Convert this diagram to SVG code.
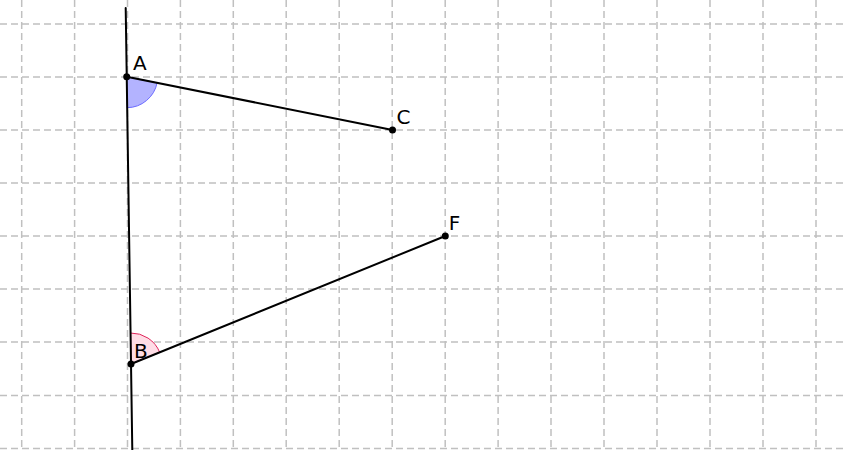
<svg xmlns="http://www.w3.org/2000/svg" width="846" height="450" viewBox="0 0 846 450">
<style>
.grid line{stroke:#c0c0c0;stroke-width:1.5;stroke-dasharray:7,4}
.seg{stroke:#000;stroke-width:2;fill:none;stroke-linecap:round}
.pt{fill:#000}
.lbl{font-family:"DejaVu Sans",sans-serif;font-size:20px;fill:#000}
</style>
<rect width="846" height="450" fill="#fff"/>
<g class="grid">
<line x1="21.7" y1="0" x2="21.7" y2="450"/>
<line x1="74.6" y1="0" x2="74.6" y2="450"/>
<line x1="127.5" y1="0" x2="127.5" y2="450"/>
<line x1="180.4" y1="0" x2="180.4" y2="450"/>
<line x1="233.3" y1="0" x2="233.3" y2="450"/>
<line x1="286.2" y1="0" x2="286.2" y2="450"/>
<line x1="339.2" y1="0" x2="339.2" y2="450"/>
<line x1="392.2" y1="0" x2="392.2" y2="450"/>
<line x1="445.2" y1="0" x2="445.2" y2="450"/>
<line x1="498.1" y1="0" x2="498.1" y2="450"/>
<line x1="551" y1="0" x2="551" y2="450"/>
<line x1="604" y1="0" x2="604" y2="450"/>
<line x1="657" y1="0" x2="657" y2="450"/>
<line x1="710" y1="0" x2="710" y2="450"/>
<line x1="763" y1="0" x2="763" y2="450"/>
<line x1="816" y1="0" x2="816" y2="450"/>
<line x1="0" y1="24" x2="846" y2="24"/>
<line x1="0" y1="77" x2="846" y2="77"/>
<line x1="0" y1="130" x2="846" y2="130"/>
<line x1="0" y1="183" x2="846" y2="183"/>
<line x1="0" y1="236" x2="846" y2="236"/>
<line x1="0" y1="289" x2="846" y2="289"/>
<line x1="0" y1="342" x2="846" y2="342"/>
<line x1="0" y1="395.5" x2="846" y2="395.5"/>
<line x1="0" y1="448.5" x2="846" y2="448.5"/>
</g>
<g id="angles">
<path d="M126.7,76.7 L157.1,82.8 A31,31 0 0 1 127.2,107.7 Z" fill="#b3b3ff" stroke="#6b6bff" stroke-width="1"/>
<path d="M131,364 L159.7,352.3 A31,31 0 0 0 130.5,333 Z" fill="#ffdde6" stroke="#e0245a" stroke-width="1"/>
</g>
<g id="connectors">
<line class="seg" x1="125.7" y1="8" x2="132.3" y2="450"/>
<line class="seg" x1="126.7" y1="76.7" x2="392.5" y2="130"/>
<line class="seg" x1="131" y1="364" x2="445.3" y2="236"/>
</g>
<g id="A"><circle class="pt" cx="126.7" cy="76.7" r="3.5"/><text class="lbl" x="133" y="70">A</text></g>
<g id="B"><circle class="pt" cx="131" cy="364" r="3.5"/><text class="lbl" x="134" y="358">B</text></g>
<g id="C"><circle class="pt" cx="392.5" cy="130" r="3.5"/><text class="lbl" x="396.5" y="123.5">C</text></g>
<g id="F"><circle class="pt" cx="445.3" cy="236" r="3.5"/><text class="lbl" x="448.7" y="229.5">F</text></g>
</svg>
